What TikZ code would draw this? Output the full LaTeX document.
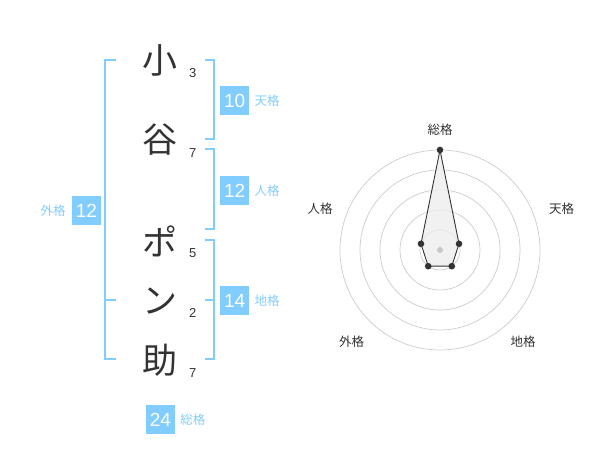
\documentclass[tikz,border=0pt]{standalone}
\usepackage{fontspec}
\setmainfont{Liberation Sans}
\newfontfamily\jpfont{Noto Sans CJK JP}
\usetikzlibrary{positioning}
\definecolor{kakublue}{HTML}{82CDFF}
\definecolor{inkgray}{HTML}{333333}

\begin{document}
\begin{tikzpicture}[x=1pt,y=-1pt,
  kanji/.style={font=\jpfont\fontsize{35}{35}\selectfont, text=inkgray, inner sep=0pt},
  strokes/.style={font=\fontsize{13}{13}\selectfont, text=inkgray, inner sep=0pt},
  numbox/.style={fill=kakublue, text=white, minimum size=29pt, inner sep=0pt, font=\fontsize{19}{19}\selectfont},
  kakulabel/.style={font=\jpfont\fontsize{12.5}{12.5}\selectfont, text=kakublue, inner sep=0pt},
  bracket/.style={draw=kakublue, line width=2pt},
  ring/.style={draw=black!20, line width=0.7pt},
  axislabel/.style={font=\jpfont\fontsize{12.5}{12.5}\selectfont, text=inkgray, inner sep=0pt}]
\useasboundingbox (0,0) rectangle (600,470);

% name characters
\node[kanji] (c1) at (160,60) {小};
\node[kanji] (c2) at (160,140) {谷};
\node[kanji] (c3) at (160,241) {ポ};
\node[kanji] (c4) at (160,301) {ン};
\node[kanji] (c5) at (160,360) {助};

% stroke counts
\node[strokes] (s1) at (192.7,72.7) {3};
\node[strokes] (s2) at (192.7,152.7) {7};
\node[strokes] (s3) at (192.7,252.7) {5};
\node[strokes] (s4) at (192.7,312.7) {2};
\node[strokes] (s5) at (192.7,372.7) {7};

% brackets
\draw[bracket] (116,60) -- (105,60) -- (105,359.3) -- (116,359.3);
\draw[bracket] (105,300) -- (116,300);
\draw[bracket] (205,60) -- (214,60) -- (214,139.3) -- (205,139.3);
\draw[bracket] (205,149.3) -- (214,149.3) -- (214,229.3) -- (205,229.3);
\draw[bracket] (205,240) -- (214,240) -- (214,359.3) -- (205,359.3);
\draw[bracket] (205,300) -- (214,300);

% scores
\node[numbox] (tenkaku) at (234.7,100.5) {10};
\node[kakulabel, right=5pt of tenkaku] (tenlabel) {天格};
\node[numbox] (jinkaku) at (234.7,190.5) {12};
\node[kakulabel, right=5pt of jinkaku] (jinlabel) {人格};
\node[numbox] (chikaku) at (234.7,300.5) {14};
\node[kakulabel, right=5pt of chikaku] (chilabel) {地格};
\node[numbox] (gaikaku) at (86.5,210.5) {12};
\node[kakulabel, left=6pt of gaikaku] (gailabel) {外格};
\node[numbox] (soukaku) at (160.5,419.5) {24};
\node[kakulabel, right=5pt of soukaku] (soulabel) {総格};

% radar chart
\begin{scope}[shift={(440,250)}, y=1pt]
\foreach \r in {20,40,60,80,100}
  \draw[ring] (0,0) circle (\r);
\coordinate (pSou) at (90:100);
\coordinate (pTen) at (18:20);
\coordinate (pChi) at (-54:20);
\coordinate (pGai) at (-126:20);
\coordinate (pJin) at (162:20);
\draw[fill=black!7, fill opacity=0.8, draw=inkgray, line width=0.9pt]
  (pSou) -- (pTen) -- (pChi) -- (pGai) -- (pJin) -- cycle;
\fill[black!22] (0,0) circle (3);
\foreach \p in {pSou,pTen,pChi,pGai,pJin}
  \fill[inkgray] (\p) circle (3.3);
\end{scope}
\node[axislabel] (axSou) at (440,130) {総格};
\node[axislabel] (axTen) at (561.7,208.3) {天格};
\node[axislabel] (axJin) at (320,208.3) {人格};
\node[axislabel] (axGai) at (351.7,341.7) {外格};
\node[axislabel] (axChi) at (523,341.7) {地格};
\end{tikzpicture}
\end{document}
